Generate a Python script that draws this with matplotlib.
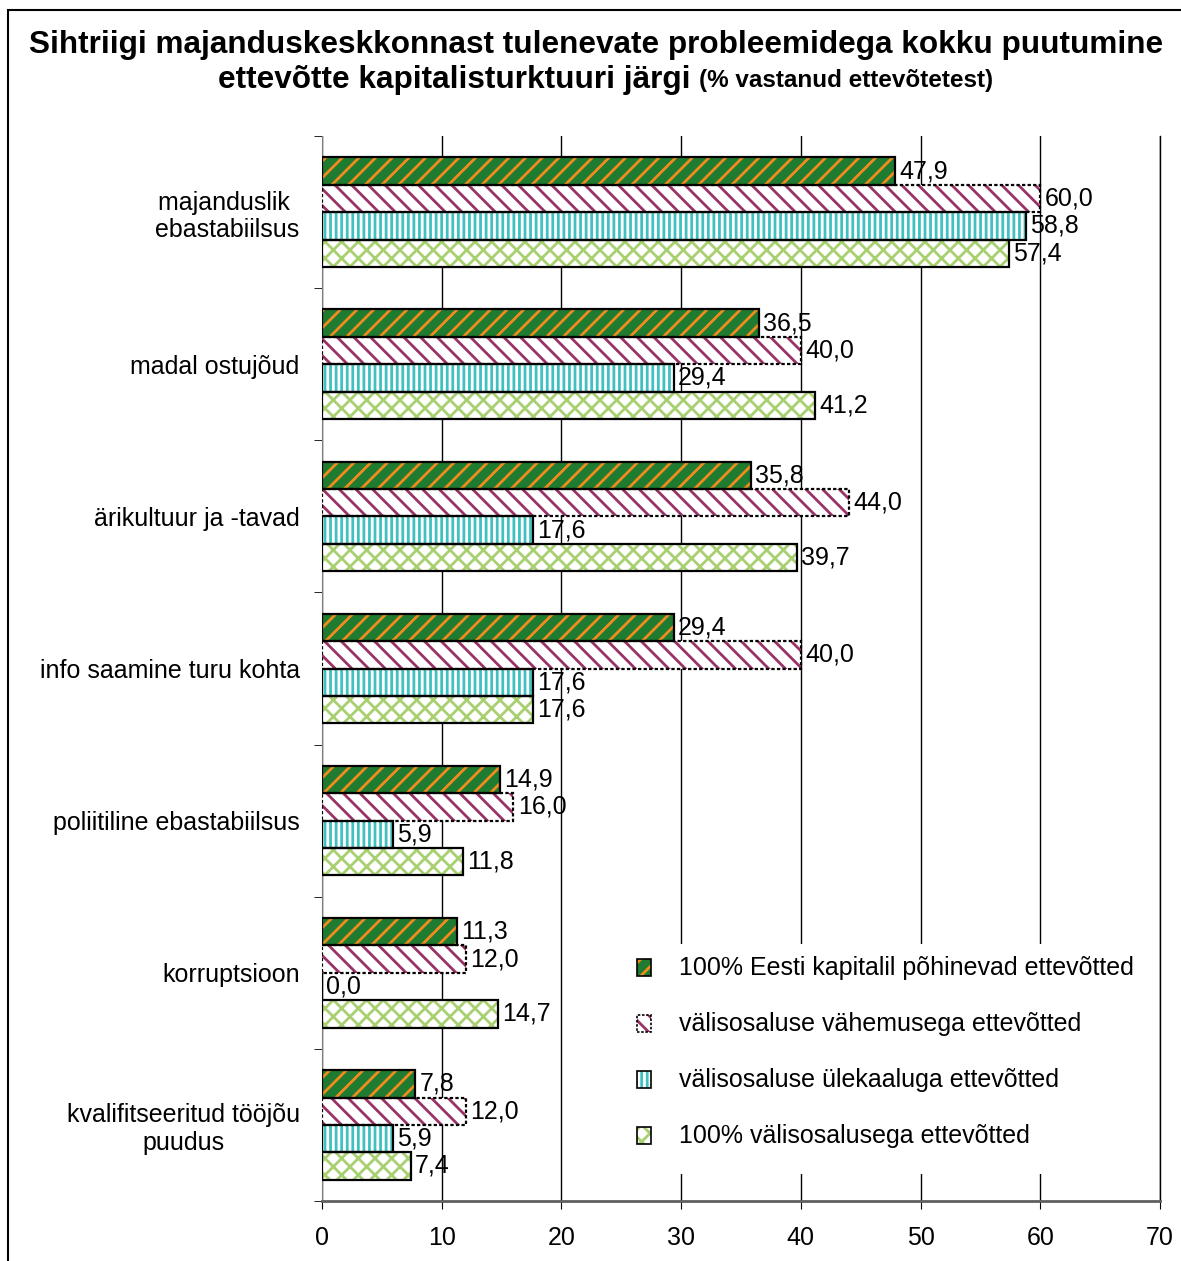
import numpy as np
import matplotlib
matplotlib.use("Agg")
from matplotlib import pyplot as plt
from matplotlib.patches import Rectangle

plt.rcParams['font.family'] = ['Liberation Sans', 'DejaVu Sans']
plt.rcParams['hatch.linewidth'] = 2.0

categories = ["majanduslik \nebastabiilsus", "madal ostujõud", "ärikultuur ja -tavad",
              "info saamine turu kohta", "poliitiline ebastabiilsus", "korruptsioon",
              "kvalifitseeritud tööjõu\npuudus"]
series_names = ["100% Eesti kapitalil põhinevad ettevõtted",
                "välisosaluse vähemusega ettevõtted",
                "välisosaluse ülekaaluga ettevõtted",
                "100% välisosalusega ettevõtted"]
eesti = [47.9, 36.5, 35.8, 29.4, 14.9, 11.3, 7.8]
vahemus = [60.0, 40.0, 44.0, 40.0, 16.0, 12.0, 12.0]
ylekaal = [58.8, 29.4, 17.6, 17.6, 5.9, 0.0, 5.9]
valis = [57.4, 41.2, 39.7, 17.6, 11.8, 14.7, 7.4]
values = [eesti, vahemus, ylekaal, valis]

# fill colour, hatch colour, hatch pattern, edge style
styles = [("#1e7b30", "#f08c1e", "//", "solid"),
          ("white", "#993366", "\\\\", (0, (1.5, 1))),
          ("white", "#40c0c0", "|||", "solid"),
          ("white", "#a8d070", "xx", "solid")]

fig = plt.figure(figsize=(11.81, 12.61), dpi=100)
ax = fig.add_axes([0.2726, 0.0476, 0.7096, 0.8445])

y = np.arange(len(categories))
h = 0.18
for k, vals in enumerate(values):
    fc, hc, hatch, ls = styles[k]
    pos = y + (k - 1.5) * h
    ax.barh(pos, vals, height=h, color=fc, edgecolor=hc, hatch=hatch, linewidth=0, zorder=3)
    ax.barh(pos, vals, height=h, fill=False, edgecolor="black", linewidth=1.6,
            linestyle=ls, zorder=4)
    for p, v in zip(pos, vals):
        ax.text(v + 0.35, p, f"{v:.1f}".replace(".", ","), va="center", ha="left",
                fontsize=18, zorder=5)
    # legend
    ly = 0.219 - k * 0.0526
    ax.add_patch(Rectangle((0.376, ly - 0.008), 0.017, 0.016, transform=ax.transAxes,
                           facecolor=fc, edgecolor=hc, hatch=hatch, linewidth=0, zorder=5))
    ax.add_patch(Rectangle((0.376, ly - 0.008), 0.017, 0.016, transform=ax.transAxes,
                           fill=False, edgecolor="black", linewidth=1.2, linestyle=ls, zorder=6))
    ax.text(0.426, ly, series_names[k], transform=ax.transAxes, fontsize=18,
            va="center", ha="left")

# white legend background hiding the gridlines
ax.add_patch(Rectangle((0.356, 0.0254), 0.638, 0.2156, transform=ax.transAxes,
                       facecolor="white", edgecolor="none", zorder=1))

ax.set_xlim(0, 70)
ax.set_ylim(6.5, -0.5)
ax.set_xticks(range(0, 71, 10))
ax.tick_params(axis="x", labelsize=18, length=6, direction="out", pad=12)
ax.set_yticks(y)
ax.set_yticklabels(categories, fontsize=18, multialignment="center")
ax.set_yticks(np.arange(-0.5, 7, 1), minor=True)
ax.tick_params(axis="y", which="major", length=0, pad=16)
ax.tick_params(axis="y", which="minor", length=6, direction="out")
ax.grid(axis="x", color="black", linewidth=1, zorder=0)
ax.axvline(70, color="black", linewidth=1, clip_on=False, zorder=2)
ax.set_axisbelow(True)
for s in ["top", "right"]:
    ax.spines[s].set_visible(False)
ax.spines["left"].set_color("#808080")
ax.spines["bottom"].set_color("#606060")
ax.spines["bottom"].set_linewidth(2)

fig.text(0.505, 1 - 45 / 1261, "Sihtriigi majanduskeskkonnast tulenevate probleemidega kokku puutumine",
         ha="center", va="center", fontsize=22.7, fontweight="bold")
fig.text(0.592, 1 - 80 / 1261, "ettevõtte kapitalisturktuuri järgi ", ha="right", va="center",
         fontsize=22.7, fontweight="bold")
fig.text(0.592, 1 - 80 / 1261, "(% vastanud ettevõtetest)", ha="left", va="center",
         fontsize=17.5, fontweight="bold")

# outer frame
fig.add_artist(Rectangle((8 / 1181, -0.1), 1.2, 1 - 10 / 1261 + 0.1, transform=fig.transFigure,
                         fill=False, edgecolor="black", linewidth=1.5))

fig.savefig("out.png", dpi=100)
